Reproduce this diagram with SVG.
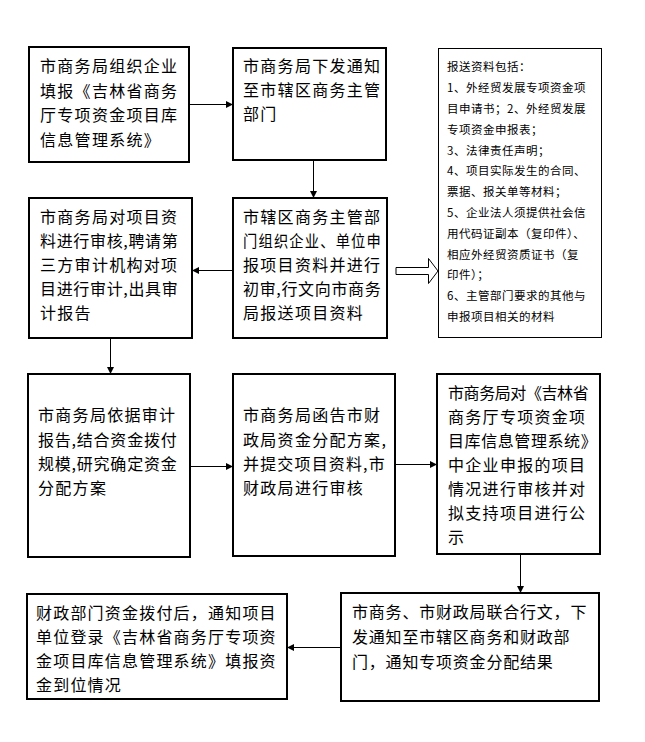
<svg xmlns="http://www.w3.org/2000/svg" width="645" height="742" viewBox="0 0 645 742">
<style>
.box{fill:#fff;stroke:#000;stroke-width:2}
.thin{fill:#fff;stroke:#000;stroke-width:1}
.t{font-family:"Noto Sans CJK SC","Noto Sans",sans-serif;font-size:16px;letter-spacing:1.3px;fill:#000}
.s{font-family:"Noto Sans CJK SC","Noto Sans",sans-serif;font-size:11.5px;letter-spacing:0.5px;fill:#000}
.c{stroke:#000;stroke-width:1;fill:none;marker-end:url(#ah)}
</style>
<defs>
<marker id="ah" markerUnits="userSpaceOnUse" markerWidth="7" markerHeight="7" refX="7" refY="3.5" orient="auto">
<path d="M0,0 L7,3.5 L0,7 z" fill="#000"/>
</marker>
</defs>
<rect width="645" height="742" fill="#fff"/>
<g id="connectors">
<line class="c" x1="189" y1="104.5" x2="233" y2="104.5"/>
<line class="c" x1="313.5" y1="160" x2="313.5" y2="198"/>
<line class="c" x1="233" y1="270.5" x2="192" y2="270.5"/>
<polygon points="396,267.5 428.5,267.5 428.5,258.5 438,271 428.5,283.5 428.5,274.5 396,274.5" fill="#fff" stroke="#000" stroke-width="1"/>
<line class="c" x1="110.5" y1="338" x2="110.5" y2="374"/>
<line class="c" x1="190" y1="466.5" x2="233" y2="466.5"/>
<line class="c" x1="395" y1="464.5" x2="437" y2="464.5"/>
<line class="c" x1="520.5" y1="554" x2="520.5" y2="593"/>
<line class="c" x1="341" y1="647.5" x2="287" y2="647.5"/>
</g>
<g id="n1">
<rect class="box" x="29" y="47" width="160" height="115"/>
<text class="t" x="40" y="72">市商务局组织企业</text>
<text class="t" x="40" y="96.5">填报《吉林省商务</text>
<text class="t" x="40" y="121">厅专项资金项目库</text>
<text class="t" x="40" y="145.5">信息管理系统》</text>
</g>
<g id="n2">
<rect class="box" x="233" y="48" width="153" height="112"/>
<text class="t" x="243" y="72">市商务局下发通知</text>
<text class="t" x="243" y="96">至市辖区商务主管</text>
<text class="t" x="243" y="120">部门</text>
</g>
<g id="n3">
<rect class="thin" x="438.5" y="48.5" width="163" height="289"/>
<text class="s" x="447" y="71.4">报送资料包括：</text>
<text class="s" x="447" y="92.2">1、外经贸发展专项资金项</text>
<text class="s" x="447" y="113">目申请书；2、外经贸发展</text>
<text class="s" x="447" y="133.8">专项资金申报表；</text>
<text class="s" x="447" y="154.6">3、法律责任声明；</text>
<text class="s" x="447" y="175.4">4、项目实际发生的合同、</text>
<text class="s" x="447" y="196.2">票据、报关单等材料；</text>
<text class="s" x="447" y="217">5、企业法人须提供社会信</text>
<text class="s" x="447" y="237.8">用代码证副本（复印件）、</text>
<text class="s" x="447" y="258.6">相应外经贸资质证书（复</text>
<text class="s" x="447" y="279.4">印件）；</text>
<text class="s" x="447" y="300.2">6、主管部门要求的其他与</text>
<text class="s" x="447" y="321">申报项目相关的材料</text>
</g>
<g id="n4">
<rect class="box" x="29" y="198" width="163" height="140"/>
<text class="t" x="40" y="223">市商务局对项目资</text>
<text class="t" x="40" y="247" textLength="139" lengthAdjust="spacing">料进行审核,聘请第</text>
<text class="t" x="40" y="271">三方审计机构对项</text>
<text class="t" x="40" y="294.5" textLength="139" lengthAdjust="spacing">目进行审计,出具审</text>
<text class="t" x="40" y="318.5">计报告</text>
</g>
<g id="n5">
<rect class="box" x="233" y="198" width="154" height="140"/>
<text class="t" x="243" y="223">市辖区商务主管部</text>
<text class="t" x="243" y="247" textLength="139" lengthAdjust="spacingAndGlyphs">门组织企业、单位申</text>
<text class="t" x="243" y="271">报项目资料并进行</text>
<text class="t" x="243" y="294.5" textLength="139" lengthAdjust="spacing">初审,行文向市商务</text>
<text class="t" x="243" y="318.5">局报送项目资料</text>
</g>
<g id="n6">
<rect class="box" x="28" y="374" width="162" height="183"/>
<text class="t" x="38" y="421">市商务局依据审计</text>
<text class="t" x="38" y="445.5" textLength="140" lengthAdjust="spacing">报告,结合资金拨付</text>
<text class="t" x="38" y="470" textLength="140" lengthAdjust="spacing">规模,研究确定资金</text>
<text class="t" x="38" y="494">分配方案</text>
</g>
<g id="n7">
<rect class="box" x="233" y="374" width="162" height="182"/>
<text class="t" x="243" y="421">市商务局函告市财</text>
<text class="t" x="243" y="445.5">政局资金分配方案,</text>
<text class="t" x="243" y="470" textLength="143" lengthAdjust="spacing">并提交项目资料,市</text>
<text class="t" x="243" y="494">财政局进行审核</text>
</g>
<g id="n8">
<rect class="box" x="437" y="374" width="163" height="180"/>
<text class="t" x="448" y="399" textLength="142" lengthAdjust="spacing">市商务局对《吉林省</text>
<text class="t" x="448" y="423">商务厅专项资金项</text>
<text class="t" x="448" y="447" textLength="150" lengthAdjust="spacing">目库信息管理系统》</text>
<text class="t" x="448" y="471">中企业申报的项目</text>
<text class="t" x="448" y="495">情况进行审核并对</text>
<text class="t" x="448" y="519">拟支持项目进行公</text>
<text class="t" x="448" y="543">示</text>
</g>
<g id="n9">
<rect class="box" x="341" y="593" width="258" height="108"/>
<text class="t" x="352" y="618" style="letter-spacing:0.8px">市商务、市财政局联合行文，下</text>
<text class="t" x="352" y="643" style="letter-spacing:0.8px">发通知至市辖区商务和财政部</text>
<text class="t" x="352" y="668" style="letter-spacing:0.8px">门，通知专项资金分配结果</text>
</g>
<g id="n10">
<rect class="box" x="27" y="594" width="260" height="105"/>
<text class="t" x="36" y="619" style="letter-spacing:1.2px">财政部门资金拨付后，通知项目</text>
<text class="t" x="36" y="643" style="letter-spacing:1.2px">单位登录《吉林省商务厅专项资</text>
<text class="t" x="36" y="667" style="letter-spacing:1.2px">金项目库信息管理系统》填报资</text>
<text class="t" x="36" y="691" style="letter-spacing:1.2px">金到位情况</text>
</g>
</svg>
